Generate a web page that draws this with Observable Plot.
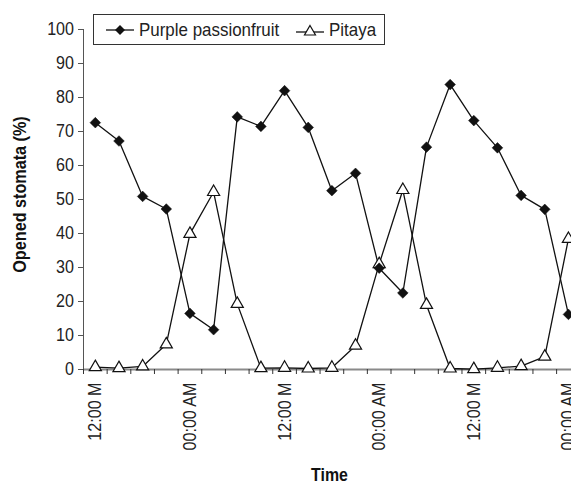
<!DOCTYPE html>
<html>
<head>
<meta charset="utf-8">
<script src="https://cdn.jsdelivr.net/npm/d3@7"></script>
<script src="https://cdn.jsdelivr.net/npm/@observablehq/plot@0.6"></script>
<style>
  html, body { margin: 0; padding: 0; background: #fff; }
  #chart { position: relative; width: 571px; height: 485px; font-family: "Liberation Sans", Arial, sans-serif; }
  #legend { position: absolute; left: 93px; top: 14px; width: 290px; height: 29px; border: 1px solid #333; background: #fff; font-size: 18.5px; color: #222; }
  #legend .item { position: absolute; top: 0; height: 29px; display: flex; align-items: center; white-space: nowrap; }
  #legend svg { display: block; }
  #legend span { display: inline-block; margin-left: 5px; transform: scaleX(0.915); transform-origin: left center; }
</style>
</head>
<body>
<div id="chart">
  <div id="legend">
    <div class="item" style="left: 12px;">
      <svg width="28" height="14"><line x1="0" y1="7" x2="28" y2="7" stroke="#111" stroke-width="1.3"/><path d="M14,2 L19,7 L14,12 L9,7 Z" fill="#111"/></svg>
      <span>Purple passionfruit</span>
    </div>
    <div class="item" style="left: 202px;">
      <svg width="28" height="14"><line x1="0" y1="9" x2="28" y2="9" stroke="#111" stroke-width="1.3"/><path d="M14,2.5 L19.5,12 L8.5,12 Z" fill="#fff" stroke="#111" stroke-width="1.2"/></svg>
      <span>Pitaya</span>
    </div>
  </div>
</div>
<script>
// Sampling slots, one every 3 hours
const slots = d3.range(21);

// Opened stomata (%) per slot
const passionfruit = [72.6, 67.2, 50.9, 47.2, 16.5, 11.7, 74.3, 71.5, 82.0, 71.2, 52.6, 57.7, 29.8, 22.5, 65.4, 83.8, 73.2, 65.2, 51.2, 47.1, 16.2];
const pitaya = [0.7, 0.4, 0.9, 7.4, 39.9, 52.2, 19.3, 0.4, 0.5, 0.3, 0.5, 7.0, 31.0, 52.8, 19.0, 0.3, 0.1, 0.5, 1.0, 3.8, 38.4];

// Time labels shown under the axis
const tickSlots = [0, 4, 8, 12, 16, 20];
const tickLabels = ["12:00 M", "00:00 AM", "12:00 M", "00:00 AM", "12:00 M", "00:00 AM"];
const yTicks = d3.range(0, 101, 10);

const pf = slots.map((s, i) => ({slot: s, value: passionfruit[i]}));
const pt = slots.map((s, i) => ({slot: s, value: pitaya[i]}));
const labels = tickSlots.map((s, i) => ({slot: s, label: tickLabels[i]}));
const boundaries = d3.range(-0.5, 21, 1);

const chart = Plot.plot({
  width: 571,
  height: 485,
  marginLeft: 83,
  marginRight: 0,
  marginTop: 29,
  marginBottom: 116,
  style: {fontFamily: "'Liberation Sans', Arial, sans-serif", fontSize: "18.5px", background: "white", color: "#222"},
  x: {domain: [-0.5, 20.13]},
  y: {domain: [0, 100]},
  marks: [
    Plot.ruleY([0], {stroke: "#8a8a8a", strokeWidth: 2}),
    Plot.ruleX([-0.5], {stroke: "#555", strokeWidth: 1}),
    Plot.axisY({ticks: yTicks, tickSize: 5, tickPadding: 4.5, label: null, stroke: "#555", fill: "#222", fontSize: 18.5, className: "narrow"}),
    Plot.axisX({ticks: boundaries, tickSize: 5, tickFormat: () => "", label: null, stroke: "#333"}),
    Plot.text(labels, {x: "slot", y: () => 0, text: "label", rotate: -90, textAnchor: "end", lineAnchor: "middle", dy: 13, fontSize: 18.5, fill: "#222", className: "narrow"}),
    Plot.text(["Opened stomata (%)"], {frameAnchor: "left", textAnchor: "middle", lineAnchor: "middle", dx: -63, dy: -5, rotate: -90, fontWeight: "bold", fontSize: 18, fill: "#111", className: "narrow-title"}),
    Plot.text(["Time"], {frameAnchor: "bottom", lineAnchor: "middle", dy: 105.5, dx: 2, fontWeight: "bold", fontSize: 18.5, fill: "#111", className: "narrow-time"}),
    Plot.line(pt, {x: "slot", y: "value", stroke: "#111", strokeWidth: 1.3}),
    Plot.line(pf, {x: "slot", y: "value", stroke: "#111", strokeWidth: 1.3}),
    Plot.dot(pt, {x: "slot", y: "value", symbol: "triangle", r: 4.5, fill: "white", stroke: "#111", strokeWidth: 1.2}),
    Plot.dot(pf, {x: "slot", y: "value", symbol: "diamond2", r: 4.8, fill: "#111", stroke: "#111", strokeWidth: 0.5})
  ]
});

// Squeeze text along its reading direction for a condensed face;
// a numeric x offset is moved into the transform so the anchor stays put
function condense(selector, sx) {
  chart.querySelectorAll(selector).forEach(t => {
    const xa = t.getAttribute("x");
    let shift = "";
    if (xa !== null && isFinite(+xa)) {
      shift = ` translate(${+xa},0)`;
      t.removeAttribute("x");
    }
    const tr = t.getAttribute("transform") || "";
    t.setAttribute("transform", `${tr}${shift} scale(${sx},1)`);
  });
}
condense("g.narrow text", 0.87);
condense("g.narrow-title text", 0.9);
condense("g.narrow-time text", 0.86);

document.getElementById("chart").prepend(chart);
</script>
</body>
</html>
